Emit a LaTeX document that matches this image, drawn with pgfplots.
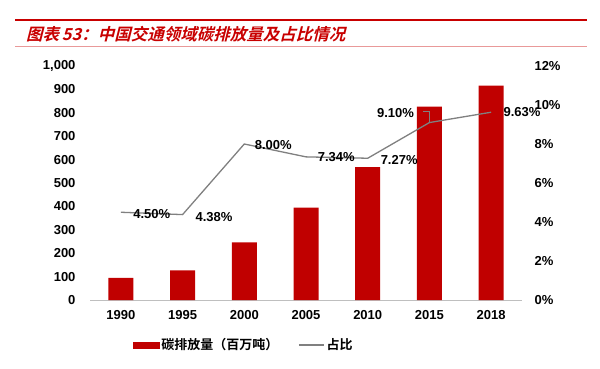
\documentclass[border=0pt]{standalone}
\usepackage{pgfplots}
\pgfplotsset{compat=1.18}
\usepackage{fontspec}
\setmainfont{Liberation Sans}
\newfontfamily\cjk{Noto Sans CJK SC Bold}
\newfontfamily\cjktitle[FakeSlant=0.25]{Noto Sans CJK SC Black}
\definecolor{barred}{RGB}{192,0,0}
\definecolor{linegray}{RGB}{128,128,128}
\definecolor{titlered}{RGB}{200,0,0}
\begin{document}
\begin{tikzpicture}
\path (0pt,0pt) rectangle (600pt,-368pt);
\draw[titlered, line width=2.2pt] (15pt,-20pt) -- (587pt,-20pt);
\draw[titlered!40, line width=0.8pt] (15pt,-46pt) -- (587pt,-46pt);
\node[anchor=west, text=titlered, inner sep=0pt, font=\fontsize{16.5}{18}\selectfont\bfseries] at (26pt,-34pt) {\cjktitle 图表\,\textit{53}：中国交通领域碳排放量及占比情况};
\begin{axis}[
  at={(90pt,-300pt)}, anchor=south west,
  scale only axis, width=432pt, height=234pt,
  xmin=-0.5, xmax=6.5, ymin=0, ymax=1000,
  xtick={0,...,6}, xticklabels={1990,1995,2000,2005,2010,2015,2018},
  ytick={0,100,200,300,400,500,600,700,800,900,1000},
  yticklabels={0,100,200,300,400,500,600,700,800,900,{1,000}},
  axis x line*=bottom, axis y line*=left,
  y axis line style={draw=none},
  x axis line style={draw=gray!50, line width=0.8pt},
  xtick style={draw=none}, ytick style={draw=none},
  x tick label style={font=\fontsize{13}{15}\selectfont\bfseries, yshift=-7pt},
  y tick label style={font=\fontsize{13}{15}\selectfont\bfseries, xshift=-11pt},
  clip=false,
]
\addplot[ybar, bar width=25pt, fill=barred, draw=none] coordinates {
(0,95) (1,127) (2,246) (3,395) (4,568) (5,826) (6,916)};
\end{axis}
\begin{axis}[
  at={(90pt,-300pt)}, anchor=south west,
  scale only axis, width=432pt, height=234pt,
  xmin=-0.5, xmax=6.5, ymin=0, ymax=12,
  axis x line=none, axis y line*=right,
  y axis line style={draw=none},
  ytick={0,2,4,6,8,10,12},
  yticklabels={0\%,2\%,4\%,6\%,8\%,10\%,12\%},
  ytick style={draw=none},
  y tick label style={font=\fontsize{13}{15}\selectfont\bfseries, xshift=9pt},
  clip=false,
  legend style={at={(0.356,-0.192)}, anchor=center, draw=none, fill=none, legend columns=2,
    font=\fontsize{13}{15}\selectfont, /tikz/every even column/.append style={column sep=18pt}},
  legend cell align=left,
]
\addlegendimage{legend image code/.code={\fill[barred] (0pt,-3pt) rectangle (26pt,3pt);}}
\addlegendentry{\cjk 碳排放量（百万吨）}
\addplot[linegray, line width=1.3pt, mark=none, legend image code/.code={\draw[linegray, line width=1.3pt] (0pt,0pt) -- (25pt,0pt);}] coordinates {
(0,4.50) (1,4.38) (2,8.00) (3,7.34) (4,7.27) (5,9.10) (6,9.63)};
\addlegendentry{\cjk 占比}
\node[font=\fontsize{13}{15}\selectfont\bfseries] at (axis cs:0.5,4.42) {4.50\%};
\node[font=\fontsize{13}{15}\selectfont\bfseries] at (axis cs:1.51,4.26) {4.38\%};
\node[font=\fontsize{13}{15}\selectfont\bfseries] at (axis cs:2.47,7.95) {8.00\%};
\node[font=\fontsize{13}{15}\selectfont\bfseries] at (axis cs:3.49,7.33) {7.34\%};
\node[font=\fontsize{13}{15}\selectfont\bfseries] at (axis cs:4.51,7.17) {7.27\%};
\node[font=\fontsize{13}{15}\selectfont\bfseries] at (axis cs:4.45,9.6) {9.10\%};
\node[font=\fontsize{13}{15}\selectfont\bfseries] at (axis cs:6.5,9.62) {9.63\%};
\draw[linegray, line width=0.8pt] (axis cs:4.9,9.66) -- (axis cs:5.0,9.66) -- (axis cs:5.0,9.12);
\end{axis}
\end{tikzpicture}
\end{document}
